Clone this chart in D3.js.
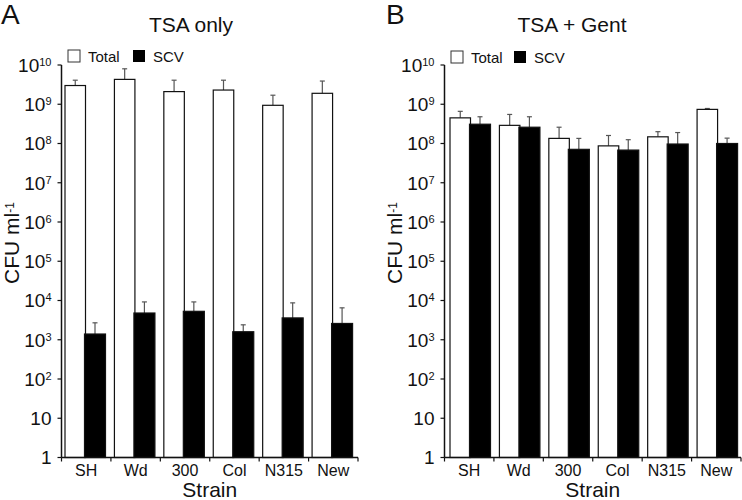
<!DOCTYPE html>
<html lang="en">
<head>
  <meta charset="UTF-8">
  <title>CFU per strain</title>
  <style>
    body { margin: 0; background: #fff; }
    svg text { font-family: "Liberation Sans", Arial, sans-serif; fill: #111; }
  </style>
</head>
<body>
  <svg id="grafico" width="742" height="500"></svg>

  <script src="https://d3js.org/d3.v7.min.js"></script>
  <script>
    // dados
    const strains = ['SH', 'Wd', '300', 'Col', 'N315', 'New'];
    const yTicks = [1, 10, 1e2, 1e3, 1e4, 1e5, 1e6, 1e7, 1e8, 1e9, 1e10];

    const tsaTotal = [3.0e9, 4.3e9, 2.1e9, 2.3e9, 9.4e8, 1.9e9];
    const tsaTotalSd = [1.1e9, 3.7e9, 2.0e9, 1.8e9, 7.6e8, 2.0e9];
    const tsaScv = [1.4e3, 4.8e3, 5.3e3, 1.6e3, 3.6e3, 2.6e3];
    const tsaScvSd = [1.3e3, 4.4e3, 3.9e3, 0.8e3, 5.1e3, 3.9e3];

    const gentTotal = [4.5e8, 2.9e8, 1.35e8, 8.7e7, 1.48e8, 7.4e8];
    const gentTotalSd = [2.1e8, 2.6e8, 1.25e8, 7.3e7, 5.2e7, 4.0e7];
    const gentScv = [3.1e8, 2.6e8, 7.1e7, 6.8e7, 9.7e7, 1.0e8];
    const gentScvSd = [1.7e8, 2.2e8, 6.4e7, 5.7e7, 9.3e7, 3.7e7];

    const svg = d3.select('#grafico');

    function desenharPainel(cfg) {
      const g = svg.append('g');

      const y = d3.scaleLog().domain([1, 1e10]).range([457.5, 65]);
      const x = d3.scaleBand().domain(strains).range([cfg.left, cfg.right]).padding(0);

      // letra do painel e titulo
      g.append('text').attr('x', cfg.letraX).attr('y', 24)
        .style('font-size', '28px').text(cfg.letra);
      g.append('text').attr('x', cfg.tituloX).attr('y', 32)
        .attr('text-anchor', 'middle').style('font-size', '21px').text(cfg.titulo);

      // legenda
      const leg = g.append('g').attr('transform', `translate(${cfg.legX},${cfg.legY})`);
      leg.append('rect').attr('x', 0).attr('y', 0).attr('width', 12).attr('height', 12)
        .attr('fill', '#fff').attr('stroke', '#333').attr('stroke-width', 1);
      leg.append('text').attr('x', 20).attr('y', 12).style('font-size', '15px').text('Total');
      leg.append('rect').attr('x', cfg.legGap).attr('y', 0).attr('width', 12).attr('height', 12)
        .attr('fill', '#000');
      leg.append('text').attr('x', cfg.legGap + 20).attr('y', 12).style('font-size', '15px').text('SCV');

      // barras
      const series = [
        { valores: cfg.total, sd: cfg.totalSd, cor: '#fff', dx: cfg.off, w: 20.5 },
        { valores: cfg.scv, sd: cfg.scvSd, cor: '#000', dx: cfg.off + 19.5, w: 21 }
      ];

      series.forEach(s => {
        const grupo = g.append('g');
        // barra de erro (somente para cima)
        grupo.selectAll('line.erro')
          .data(strains)
          .enter().append('line')
          .attr('x1', (d, i) => x(d) + s.dx + s.w / 2)
          .attr('x2', (d, i) => x(d) + s.dx + s.w / 2)
          .attr('y1', (d, i) => y(s.valores[i]))
          .attr('y2', (d, i) => y(s.valores[i] + s.sd[i]))
          .attr('stroke', '#555').attr('stroke-width', 1.2);
        grupo.selectAll('line.cap')
          .data(strains)
          .enter().append('line')
          .attr('x1', (d, i) => x(d) + s.dx + s.w / 2 - 2.5)
          .attr('x2', (d, i) => x(d) + s.dx + s.w / 2 + 2.5)
          .attr('y1', (d, i) => y(s.valores[i] + s.sd[i]))
          .attr('y2', (d, i) => y(s.valores[i] + s.sd[i]))
          .attr('stroke', '#555').attr('stroke-width', 1.2);
        grupo.selectAll('rect')
          .data(strains)
          .enter().append('rect')
          .attr('x', d => x(d) + s.dx)
          .attr('width', s.w)
          .attr('y', (d, i) => y(s.valores[i]))
          .attr('height', (d, i) => y(1) - y(s.valores[i]))
          .attr('fill', s.cor)
          .attr('stroke', '#111').attr('stroke-width', 1.2);
      });

      // eixo y
      g.append('line').attr('x1', cfg.left).attr('x2', cfg.left)
        .attr('y1', y(1e10)).attr('y2', y(1))
        .attr('stroke', '#111').attr('stroke-width', 1.5);
      yTicks.forEach(t => {
        g.append('line').attr('x1', cfg.left - 4).attr('x2', cfg.left)
          .attr('y1', y(t)).attr('y2', y(t)).attr('stroke', '#111').attr('stroke-width', 1.2);
        const exp = Math.round(Math.log10(t));
        const txt = g.append('text').attr('y', y(t)).attr('dy', '0.36em')
          .attr('text-anchor', 'end').style('font-size', '19px');
        if (exp <= 1) {
          txt.attr('x', cfg.left - 10).text(exp === 0 ? '1' : '10');
        } else {
          txt.attr('x', cfg.left - 10);
          txt.append('tspan').text('10');
          txt.append('tspan').attr('dy', '-0.55em').style('font-size', '11px').text(exp);
        }
      });

      // eixo x
      g.append('line').attr('x1', cfg.left).attr('x2', cfg.right)
        .attr('y1', y(1)).attr('y2', y(1))
        .attr('stroke', '#111').attr('stroke-width', 1.5);
      const separadores = strains.map(d => x(d)).concat([cfg.right]);
      separadores.forEach(sx => {
        g.append('line').attr('x1', sx).attr('x2', sx)
          .attr('y1', y(1)).attr('y2', y(1) + 4).attr('stroke', '#111').attr('stroke-width', 1.2);
      });
      g.selectAll('text.rotulo')
        .data(strains)
        .enter().append('text')
        .attr('x', d => x(d) + x.bandwidth() / 2)
        .attr('y', 476)
        .attr('text-anchor', 'middle')
        .style('font-size', '16px')
        .text(d => d);

      g.append('text').attr('x', (cfg.left + cfg.right) / 2).attr('y', 497)
        .attr('text-anchor', 'middle').style('font-size', '21px').text('Strain');

      // rotulo do eixo y
      const yl = g.append('text')
        .attr('transform', `translate(${cfg.yLabelX},243) rotate(-90)`)
        .attr('text-anchor', 'middle').style('font-size', '21px');
      yl.append('tspan').text('CFU ml');
      yl.append('tspan').attr('dy', '-0.42em').style('font-size', '12px').text('-1');
    }

    desenharPainel({
      letra: 'A', letraX: 1, titulo: 'TSA only', tituloX: 191,
      left: 61.5, right: 358, off: 3.5,
      legX: 68, legY: 50, legGap: 65,
      yLabelX: 19,
      total: tsaTotal, totalSd: tsaTotalSd, scv: tsaScv, scvSd: tsaScvSd
    });

    desenharPainel({
      letra: 'B', letraX: 386, titulo: 'TSA + Gent', tituloX: 572,
      left: 444.5, right: 741, off: 5.5,
      legX: 451, legY: 51, legGap: 63,
      yLabelX: 402,
      total: gentTotal, totalSd: gentTotalSd, scv: gentScv, scvSd: gentScvSd
    });
  </script>
</body>
</html>
